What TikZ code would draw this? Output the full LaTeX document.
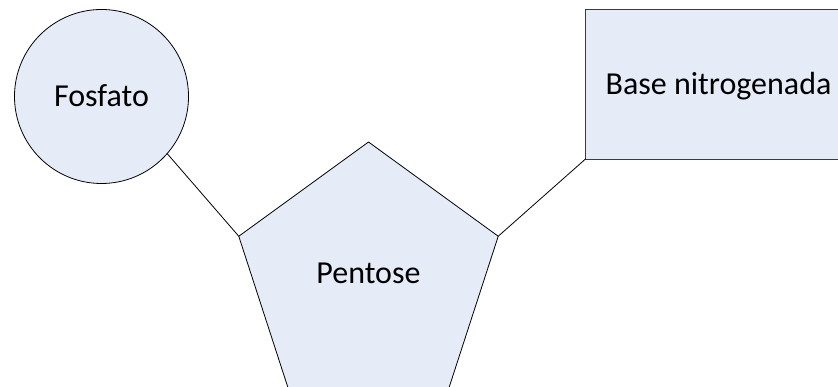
\documentclass[tikz,border=0pt]{standalone}
\usepackage{fontspec}
\setmainfont{Carlito}
\usetikzlibrary{shapes.geometric}
\definecolor{shapefill}{RGB}{230,236,247}
\definecolor{edgegray}{RGB}{60,60,60}
\tikzset{
  shapebase/.style={draw=black, fill=shapefill, line width=0.8pt, inner sep=0pt, outer sep=0pt,
    font=\fontsize{32}{38}\selectfont, text height=20.6pt, text depth=0pt},
  fosfatoshape/.style={shapebase, circle, minimum size=174pt},
  pentshape/.style={shapebase, regular polygon, regular polygon sides=5, minimum size=272.8pt, text depth=11pt},
  baseshape/.style={shapebase, rectangle, draw=edgegray, minimum width=266pt, minimum height=150pt},
  connector/.style={draw=black, line width=0.8pt}
}
\begin{document}
\begin{tikzpicture}[x=1pt,y=-1pt]
\useasboundingbox (0,0) rectangle (838,387);
\clip (0,0) rectangle (838,387);
\node[fosfatoshape] (fosfato) at (101.5,96.5) {Fosfato};
\node[pentshape] (pentose) at (368.5,278.4) {Pentose};
\node[baseshape] (base) at (718.5,84) {Base nitrogenada};
\draw[connector] (fosfato.-41) -- (pentose.corner 2);
\draw[connector] (pentose.corner 5) -- (base.south west);
\end{tikzpicture}
\end{document}
